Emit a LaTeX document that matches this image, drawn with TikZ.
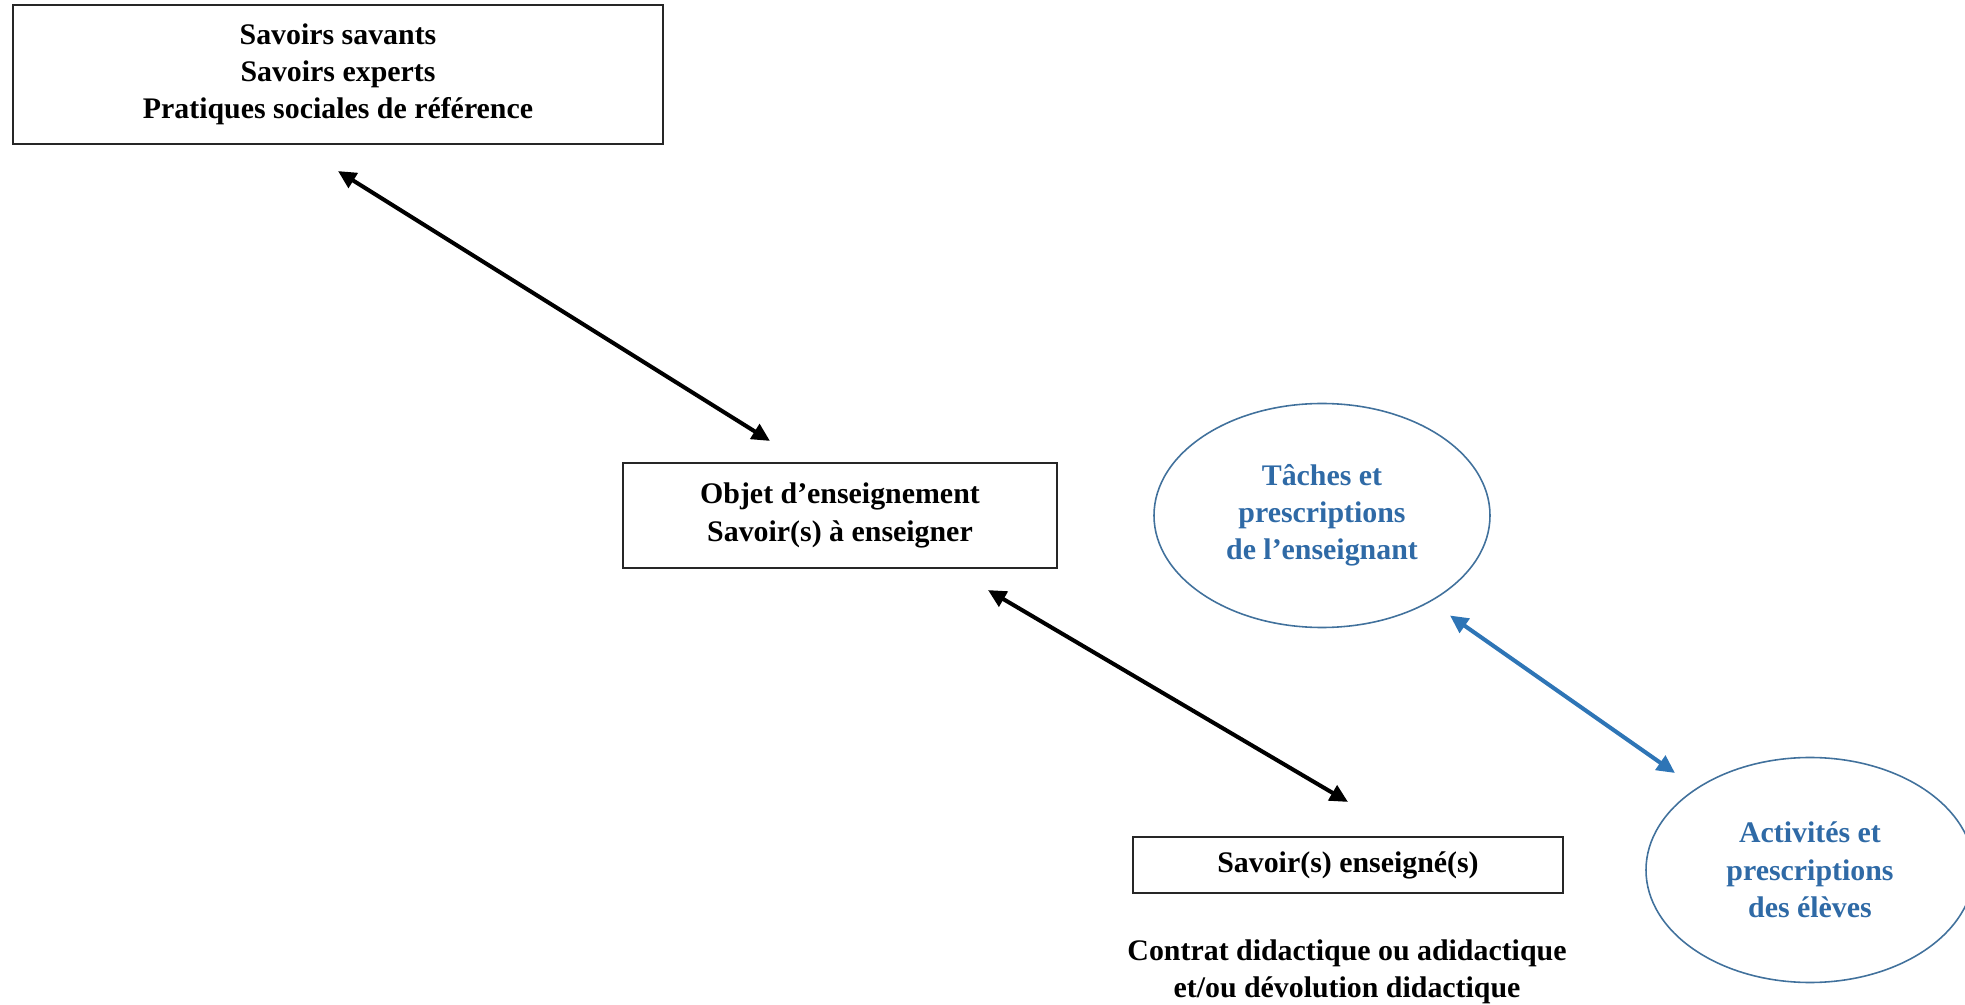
\documentclass[tikz,border=0pt]{standalone}
\usepackage{fontspec}
\setmainfont{Liberation Serif}
\usetikzlibrary{arrows.meta,shapes.geometric}
\definecolor{pupblue}{HTML}{2E75B6}
\definecolor{ringblue}{HTML}{41719C}
\definecolor{inkblue}{HTML}{2F6AA6}
\tikzset{
	savoir/.style={draw=black!85, line width=0.6pt, align=center, inner sep=0pt},
	acteur/.style={ellipse, draw=ringblue, line width=0.45pt, align=center, text=inkblue, inner sep=0pt},
	lien/.style={{Triangle[length=1.8mm,width=1.7mm]}-{Triangle[length=1.8mm,width=1.7mm]}, line width=1.15pt},
}
\begin{document}
\begin{tikzpicture}[x=1cm,y=1cm, every node/.style={font=\fontsize{8.5}{10.6}\selectfont\bfseries}]
			\useasboundingbox (0,0) rectangle (19.65,-10.05);
			% les savoirs
			\node[savoir, minimum width=6.50cm, minimum height=1.39cm] (savant) at (3.38,-0.745) {Savoirs savants\\Savoirs experts\\Pratiques sociales de référence};
			\node[savoir, minimum width=4.34cm, minimum height=1.05cm] (objet) at (8.40,-5.155) {Objet d’enseignement\\Savoir(s) à enseigner};
			\node[savoir, minimum width=4.30cm, minimum height=0.56cm] (enseigne) at (13.48,-8.65) {Savoir(s) enseigné(s)};
			\node[align=center, inner sep=0pt] (contrat) at (13.47,-9.72) {Contrat didactique ou adidactique\\et/ou dévolution didactique};
			% les acteurs
			\node[acteur, minimum width=3.36cm, minimum height=2.24cm] (prof) at (13.22,-5.155) {Tâches et\\prescriptions\\de l’enseignant};
			\node[acteur, minimum width=3.28cm, minimum height=2.25cm] (eleves) at (18.10,-8.70) {Activités et\\prescriptions\\des élèves};
			% les liens
			\draw[lien] ([yshift=-0.26cm]savant.south) -- ([shift={(-0.70,0.21)}]objet.north);
			\draw[lien] ([shift={(1.48,-0.21)}]objet.south) -- ([yshift=0.34cm]enseigne.north);
			\draw[lien, pupblue] ([shift={(1.28,-1.00)}]prof.center) -- ([shift={(-1.35,0.97)}]eleves.center);
		\end{tikzpicture}
\end{document}
